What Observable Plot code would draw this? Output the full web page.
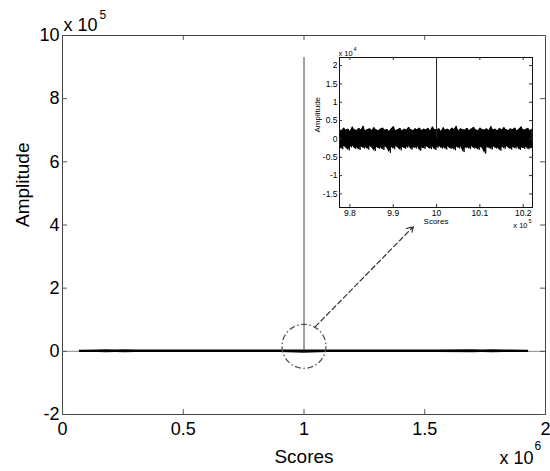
<!DOCTYPE html>
<html><head><meta charset="utf-8">
<script src="https://cdn.jsdelivr.net/npm/d3@7"></script>
<script src="https://cdn.jsdelivr.net/npm/@observablehq/plot@0.6"></script>
<style>
body{margin:0;background:#fff;}
#wrap{position:relative;width:550px;height:471px;font-family:"Liberation Sans",Arial,sans-serif;}
#wrap svg{position:absolute;}
</style></head><body><div id="wrap"></div>
<script>
// ---- main chart (x in 10^6, y in 10^5) ----
const mainXTicks = [0, 0.5, 1, 1.5, 2];
const mainYTicks = [-2, 0, 2, 4, 6, 8, 10];
const spikeX = [1];
const spikePeak = [9.3];
const mainNoiseX =     [0.07, 0.15, 0.18, 0.22, 0.26, 0.30, 0.45, 0.60, 0.75, 0.90, 0.97, 1.00, 1.03, 1.10, 1.25, 1.40, 1.55, 1.70, 1.74, 1.78, 1.83, 1.93];
const mainNoiseUpper = [0.035, 0.04, 0.05, 0.045, 0.05, 0.04, 0.04, 0.04, 0.04, 0.04, 0.045, 0.045, 0.045, 0.04, 0.04, 0.04, 0.04, 0.05, 0.045, 0.05, 0.045, 0.035];
const mainNoiseLower = [-0.035, -0.04, -0.045, -0.04, -0.045, -0.04, -0.04, -0.04, -0.04, -0.04, -0.05, -0.06, -0.05, -0.04, -0.04, -0.04, -0.04, -0.045, -0.04, -0.045, -0.04, -0.035];
const zoomCircle = [{x: 1.0, y: 0.16}];
const zoomArrow = [{x1: 1.047, y1: 0.78, x2: 1.453, y2: 3.95}];

// ---- inset (x in 10^5, y in 10^4) ----
const insetXTicks = [9.8, 9.9, 10, 10.1, 10.2];
const insetYTicks = [-1.5, -1, -0.5, 0, 0.5, 1, 1.5, 2];
const insetDomainX = [9.776, 10.2215];
const insetDomainY = [-1.87, 2.22];
const insetSpikeX = [10];
const insetSpikePeak = [93];
const insetNoiseStart = 9.776, insetNoiseStep = 0.005;
const insetUpper = [
0.26,0.22,0.30,0.24,0.27,0.21,0.33,0.25,0.23,0.29,
0.24,0.35,0.22,0.26,0.28,0.23,0.31,0.25,0.22,0.27,
0.30,0.24,0.26,0.21,0.28,0.34,0.23,0.25,0.29,0.22,
0.27,0.24,0.32,0.26,0.22,0.28,0.25,0.30,0.23,0.27,
0.24,0.29,0.22,0.33,0.26,0.25,0.28,0.21,0.31,0.24,
0.27,0.23,0.30,0.26,0.35,0.22,0.28,0.25,0.24,0.29,
0.23,0.27,0.32,0.25,0.22,0.30,0.26,0.24,0.28,0.23,
0.34,0.25,0.27,0.22,0.29,0.24,0.31,0.26,0.23,0.28,
0.25,0.30,0.22,0.27,0.33,0.24,0.26,0.29,0.23,0.27];
const insetLower = [
-0.22,-0.28,-0.20,-0.25,-0.31,-0.23,-0.19,-0.27,-0.24,-0.30,
-0.21,-0.26,-0.23,-0.29,-0.20,-0.25,-0.33,-0.22,-0.27,-0.24,
-0.30,-0.21,-0.26,-0.38,-0.23,-0.28,-0.20,-0.25,-0.31,-0.22,
-0.27,-0.24,-0.19,-0.29,-0.23,-0.26,-0.21,-0.32,-0.24,-0.27,
-0.20,-0.25,-0.28,-0.22,-0.30,-0.24,-0.19,-0.26,-0.23,-0.29,
-0.21,-0.27,-0.24,-0.31,-0.22,-0.26,-0.20,-0.36,-0.25,-0.23,
-0.28,-0.21,-0.26,-0.24,-0.30,-0.22,-0.27,-0.40,-0.23,-0.25,
-0.29,-0.21,-0.26,-0.24,-0.32,-0.22,-0.27,-0.20,-0.25,-0.29,
-0.23,-0.26,-0.21,-0.30,-0.24,-0.27,-0.22,-0.28,-0.25,-0.26];

const font = '"Liberation Sans", Arial, Helvetica, sans-serif';
const wrap = document.getElementById("wrap");

// main
const mainBand = mainNoiseX.map((x, i) => ({x, hi: mainNoiseUpper[i], lo: mainNoiseLower[i]}));
const MW = 550, MH = 471, mT = 35, mR = 5, mB = 57, mL = 62;
const fH = MH - mT - mB, fW = MW - mL - mR, tk = 5;
const main = Plot.plot({
  width: MW, height: MH,
  marginTop: mT, marginRight: mR, marginBottom: mB, marginLeft: mL,
  style: {fontFamily: font, color: "#000", background: "white"},
  x: {domain: [0, 2]},
  y: {domain: [-2, 10]},
  marks: [
    Plot.ruleY([0], {stroke: "#8a8a8a", strokeWidth: 1}),
    Plot.areaY(mainBand, {x: "x", y1: "lo", y2: "hi", fill: "#000"}),
    Plot.ruleX(spikeX, {x: d => d, y1: 0, y2: (d, i) => spikePeak[i], stroke: "#444", strokeWidth: 1}),
    Plot.dot(zoomCircle, {x: "x", y: "y", r: 22, fill: "none", stroke: "#555", strokeWidth: 1.3, strokeDasharray: "6,2.5,1.5,2.5"}),
    Plot.arrow(zoomArrow, {x1: "x1", y1: "y1", x2: "x2", y2: "y2", stroke: "#333", strokeWidth: 1.2, strokeDasharray: "5,3", headLength: 9}),
    Plot.frame({stroke: "#444", strokeWidth: 1}),
    Plot.tickX(mainXTicks, {x: d => d, insetTop: fH - tk, stroke: "#555"}),
    Plot.tickX(mainXTicks, {x: d => d, insetBottom: fH - tk, stroke: "#555"}),
    Plot.tickY(mainYTicks, {y: d => d, insetRight: fW - tk, stroke: "#555"}),
    Plot.tickY(mainYTicks, {y: d => d, insetLeft: fW - tk, stroke: "#555"}),
    Plot.axisX({ticks: mainXTicks, tickSize: 0, tickPadding: 8, fontSize: 18, label: null, tickFormat: d => String(d)}),
    Plot.axisY({ticks: mainYTicks, tickSize: 0, tickPadding: 3, fontSize: 18, label: null, tickFormat: d => String(d)}),
    Plot.text(["x 10"], {frameAnchor: "top-left", text: d => d, textAnchor: "start", lineAnchor: "middle", dx: 1, dy: -10, fontSize: 18}),
    Plot.text(["5"], {frameAnchor: "top-left", text: d => d, textAnchor: "start", lineAnchor: "middle", dx: 37, dy: -20, fontSize: 12}),
    Plot.text(["x 10"], {frameAnchor: "bottom-right", text: d => d, textAnchor: "end", lineAnchor: "middle", dx: -12, dy: 44, fontSize: 18}),
    Plot.text(["6"], {frameAnchor: "bottom-right", text: d => d, textAnchor: "start", lineAnchor: "middle", dx: -11, dy: 32, fontSize: 12}),
    Plot.text(["Scores"], {frameAnchor: "bottom", text: d => d, lineAnchor: "middle", dy: 42, fontSize: 19}),
    Plot.text(["Amplitude"], {frameAnchor: "left", text: d => d, lineAnchor: "middle", rotate: -90, dx: -40, dy: 2, fontSize: 19})
  ]
});
main.style.left = "0px"; main.style.top = "0px";
wrap.appendChild(main);

// inset
const zig = [];
insetUpper.forEach((u, i) => {
  const x = insetNoiseStart + i * insetNoiseStep;
  zig.push({x, y: u});
  zig.push({x: x + insetNoiseStep / 2, y: insetLower[i]});
});
const insetBand = insetUpper.map((u, i) => ({x: insetNoiseStart + i * insetNoiseStep, hi: u, lo: insetLower[i]}));
const IW = 245, IH = 192, iT = 17, iR = 13, iB = 25, iL = 39;
const ifH = IH - iT - iB, ifW = IW - iL - iR, itk = 3;
const inset = Plot.plot({
  width: IW, height: IH,
  marginTop: iT, marginRight: iR, marginBottom: iB, marginLeft: iL,
  style: {fontFamily: font, color: "#000", background: "transparent"},
  x: {domain: insetDomainX},
  y: {domain: insetDomainY},
  marks: [
    Plot.frame({fill: "white"}),
    Plot.areaY(insetBand, {x: "x", y1: "lo", y2: "hi", fill: "#000", clip: true}),
    Plot.line(zig, {x: "x", y: "y", stroke: "#000", strokeWidth: 0.9, clip: true}),
    Plot.ruleX(insetSpikeX, {x: d => d, y1: 0, y2: (d, i) => insetSpikePeak[i], stroke: "#222", strokeWidth: 1, clip: true}),
    Plot.frame({stroke: "#111", strokeWidth: 1}),
    Plot.tickX(insetXTicks, {x: d => d, insetTop: ifH - itk, stroke: "#333"}),
    Plot.tickX(insetXTicks, {x: d => d, insetBottom: ifH - itk, stroke: "#333"}),
    Plot.tickY(insetYTicks, {y: d => d, insetRight: ifW - itk, stroke: "#333"}),
    Plot.tickY(insetYTicks, {y: d => d, insetLeft: ifW - itk, stroke: "#333"}),
    Plot.axisX({ticks: insetXTicks, tickSize: 0, tickPadding: 2, fontSize: 8.5, label: null, tickFormat: d => String(d)}),
    Plot.axisY({ticks: insetYTicks, tickSize: 0, tickPadding: 2, fontSize: 8.5, label: null, tickFormat: d => String(d)}),
    Plot.text(["x 10"], {frameAnchor: "top-left", text: d => d, textAnchor: "start", lineAnchor: "middle", dx: -1, dy: -4, fontSize: 7.5}),
    Plot.text(["4"], {frameAnchor: "top-left", text: d => d, textAnchor: "start", lineAnchor: "middle", dx: 14, dy: -8, fontSize: 5.5}),
    Plot.text(["x 10"], {frameAnchor: "bottom-right", text: d => d, textAnchor: "end", lineAnchor: "middle", dx: -5, dy: 18, fontSize: 7.5}),
    Plot.text(["5"], {frameAnchor: "bottom-right", text: d => d, textAnchor: "start", lineAnchor: "middle", dx: -4, dy: 14, fontSize: 5.5}),
    Plot.text(["Scores"], {frameAnchor: "bottom", text: d => d, lineAnchor: "middle", dy: 14, fontSize: 8}),
    Plot.text(["Amplitude"], {frameAnchor: "left", text: d => d, lineAnchor: "middle", rotate: -90, dx: -22, fontSize: 8})
  ]
});
inset.style.left = "300px"; inset.style.top = "40px";
wrap.appendChild(inset);
</script></body></html>
